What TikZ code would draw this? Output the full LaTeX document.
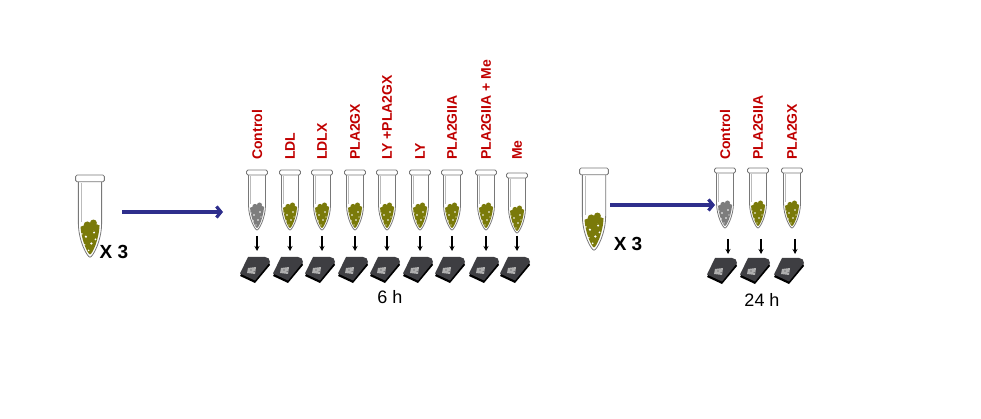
\documentclass[tikz,border=0pt]{standalone}
\usepackage{fontspec}
\setmainfont{Liberation Sans}
\usetikzlibrary{arrows.meta}
\definecolor{labred}{RGB}{192,0,0}
\definecolor{olivefill}{RGB}{122,122,10}
\definecolor{ctrlfill}{RGB}{125,125,125}
\definecolor{navyarrow}{RGB}{46,46,140}
\definecolor{tubegray}{RGB}{120,120,120}
\definecolor{chiptop}{RGB}{62,62,66}
\definecolor{chipwin}{RGB}{175,175,175}
\tikzset{
  tubebody/.style={tubegray, line width=0.8pt},
  tube/.pic={
    \fill[white] (-8.5,5) -- (-8.5,35) .. controls (-8.5,48) and (-2,60) .. (0,60)
      .. controls (2,60) and (8.5,48) .. (8.5,35) -- (8.5,5) -- cycle;
    \begin{scope}
      \clip (-7,5) -- (-7,35) .. controls (-7,47) and (-1.5,58) .. (0,58)
        .. controls (1.5,58) and (7,47) .. (7,35) -- (7,5) -- cycle;
      \fill[#1] (-10,41) rectangle (10,62);
      \fill[#1] (-5,40) circle (3) (-2,36.5) circle (2.6) (2.5,35) circle (2.5)
        (5,39) circle (3) (0,39) circle (3);
      \fill[white] (-3,45) circle (0.9) (3,42) circle (0.8) (1,50) circle (0.9)
        (-4,51) circle (0.8) (4,47) circle (0.7) (-1,55) circle (0.7) (-6,43) circle (0.7);
    \end{scope}
    \draw[tubebody] (-8.5,5) -- (-8.5,35) .. controls (-8.5,48) and (-2,60) .. (0,60)
      .. controls (2,60) and (8.5,48) .. (8.5,35) -- (8.5,5);
    \draw[tubegray!50, line width=0.4pt] (-6.5,6) -- (-6.5,34);
    \draw[tubebody, fill=white, rounded corners=1.5pt] (-10.5,0) rectangle (10.5,5);
  },
  chip/.pic={
    \fill[black] (-7,-10) -- (10,-10) .. controls (13,-10) and (15,-8) .. (15,-5)
      -- (0,13) -- (-15,6) -- cycle;
    \fill[chiptop] (-7,-13) -- (10,-13) .. controls (13,-13) and (15,-11) .. (15,-8)
      -- (0,10.5) -- (-15,3.5) -- cycle;
    \fill[chipwin] (-7,-2) -- (1,-3) -- (0,4) -- (-8,3) -- cycle;
    \fill[chiptop] (-4,0) circle (0.6) (-1,1.5) circle (0.5);
  },
  lab/.style={text=labred, font=\bfseries\fontsize{14}{14}\selectfont, rotate=90,
    anchor=west, inner sep=0pt},
  downarr/.style={-{Stealth[length=5pt,width=5pt]}, line width=1.2pt, black},
  bigarr/.style={draw=navyarrow, line width=3.2pt, -{Straight Barb[length=4.5pt,width=11pt]}},
  xlab/.style={font=\bfseries\fontsize{19}{19}\selectfont, inner sep=0pt},
  hlab/.style={font=\fontsize{18}{18}\selectfont, inner sep=0pt}
}
\begin{document}
\begin{tikzpicture}[x=1pt,y=-1pt]
\useasboundingbox (0,0) rectangle (981,419);
% left big tube
\pic[scale=1.37] (bigA) at (90,175) {tube=olivefill};
\node[xlab] (x3a) at (114,252) {X 3};
\coordinate (aS) at (122,212);
\coordinate (aE) at (223,212);
\draw[bigarr] (aS) -- (aE);
% 6 h set
\foreach \i/\x/\t/\c/\d in {1/257/Control/ctrlfill/0, 2/290/LDL/olivefill/0,
  3/322/LDLX/olivefill/0, 4/355/PLA2GX/olivefill/0, 5/387/{LY +PLA2GX}/olivefill/0,
  6/420/LY/olivefill/0, 7/452/PLA2GIIA/olivefill/0, 8/486/{PLA2GIIA + Me}/olivefill/0,
  9/517/Me/olivefill/3}{
  \node[lab] (l\i) at (\x,160) {\t};
  \pic (t\i) at (\x,170+\d) {tube=\c};
  \coordinate (s\i) at (\x,236);
  \coordinate (e\i) at (\x,251);
  \draw[downarr] (s\i) -- (e\i);
  \pic (c\i) at (\x-2,270) {chip};
}
\node[hlab] (h6) at (390,297) {6 h};
% right big tube
\pic[scale=1.37] (bigB) at (594,168) {tube=olivefill};
\node[xlab] (x3b) at (628,244) {X 3};
\coordinate (bS) at (610,205);
\coordinate (bE) at (715,205);
\draw[bigarr] (bS) -- (bE);
% 24 h set
\foreach \i/\x/\t/\c in {1/725/Control/ctrlfill, 2/758/PLA2GIIA/olivefill, 3/792/PLA2GX/olivefill}{
  \node[lab] (m\i) at (\x,160) {\t};
  \pic (u\i) at (\x,168) {tube=\c};
  \coordinate (p\i) at (\x+3,239);
  \coordinate (q\i) at (\x+3,254);
  \draw[downarr] (p\i) -- (q\i);
  \pic (d\i) at (\x-3,271) {chip};
}
\node[hlab] (h24) at (762,300) {24 h};
\end{tikzpicture}
\end{document}
